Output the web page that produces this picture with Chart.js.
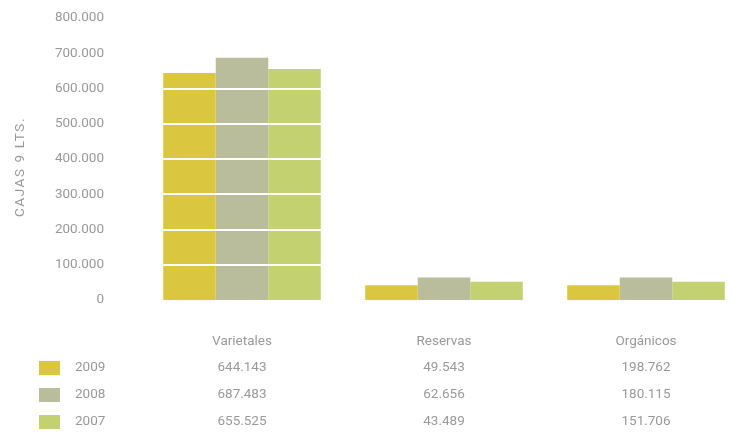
<!DOCTYPE html>
<html>
<head>
<meta charset="utf-8">
<script src="https://cdn.jsdelivr.net/npm/chart.js@4/dist/chart.umd.min.js"></script>
<style>
html,body{margin:0;padding:0;background:#fff;overflow:hidden;width:733px;height:435px;}
canvas{display:block;}
</style>
</head>
<body>
<canvas id="c" width="760" height="435"></canvas>
<script>
// ---- data ----
const categories = ['Varietales', 'Reservas', 'Orgánicos'];
const seriesNames = ['2009', '2008', '2007'];
// bar heights as drawn in the picture
const bars2009 = [644143, 42000, 42000];
const bars2008 = [687483, 64000, 64000];
const bars2007 = [655525, 52000, 52000];
// values printed in the table under the chart
const table2009 = ['644.143', '49.543', '198.762'];
const table2008 = ['687.483', '62.656', '180.115'];
const table2007 = ['655.525', '43.489', '151.706'];
const yTitle = 'CAJAS 9 LTS.';

const colors = ['#dbc640', '#b9bd9b', '#c3d170'];
const textColor = '#999999';
const fontFamily = 'Roboto, "DejaVu Sans", sans-serif';
const fontSize = 13.5;
const fontWeight = 400;

const seriesBars = [bars2009, bars2008, bars2007];
const seriesTable = [table2009, table2008, table2007];

const overlayPlugin = {
  id: 'overlay',
  afterDatasetsDraw(chart) {
    const ctx = chart.ctx;
    const y = chart.scales.y;
    const area = chart.chartArea;
    ctx.save();
    ctx.strokeStyle = '#ffffff';
    ctx.lineWidth = 2;
    y.ticks.forEach(t => {
      if (t.value === 0) return;
      const py = Math.round(y.getPixelForValue(t.value));
      ctx.beginPath();
      ctx.moveTo(area.left, py);
      ctx.lineTo(area.right, py);
      ctx.stroke();
    });
    ctx.restore();
  },
  afterDraw(chart) {
    const ctx = chart.ctx;
    const x = chart.scales.x;
    ctx.save();
    ctx.font = fontWeight + ' ' + fontSize + 'px ' + fontFamily;
    ctx.fillStyle = textColor;
    // y axis title
    ctx.save();
    ctx.translate(21, 167);
    ctx.rotate(-Math.PI / 2);
    ctx.letterSpacing = '1.6px';
    ctx.textAlign = 'center';
    ctx.textBaseline = 'middle';
    ctx.fillText(yTitle, 0, 0);
    ctx.restore();
    // data table
    const rowY = [368, 395, 422];
    seriesNames.forEach((name, s) => {
      const ry = rowY[s];
      ctx.fillStyle = colors[s];
      ctx.fillRect(39, ry - 7, 21, 14);
      ctx.fillStyle = textColor;
      ctx.textAlign = 'left';
      ctx.textBaseline = 'middle';
      ctx.fillText(name, 75, ry);
      ctx.textAlign = 'center';
      seriesTable[s].forEach((v, i) => {
        ctx.fillText(v, x.getPixelForValue(i), ry);
      });
    });
    ctx.restore();
  }
};

new Chart(document.getElementById('c'), {
  type: 'bar',
  data: {
    labels: categories,
    datasets: seriesNames.map((n, s) => ({
      label: n,
      data: seriesBars[s],
      backgroundColor: colors[s],
      borderWidth: 0,
      barPercentage: 1,
      categoryPercentage: 0.78
    }))
  },
  options: {
    responsive: false,
    animation: false,
    layout: { padding: { top: 18, right: 13, left: 0, bottom: 0 } },
    plugins: { legend: { display: false }, tooltip: { enabled: false } },
    scales: {
      x: {
        offset: true,
        grid: { display: false, drawTicks: false },
        border: { display: false },
        ticks: {
          color: textColor,
          font: { family: fontFamily, size: fontSize, weight: fontWeight },
          padding: 34,
          maxRotation: 0
        },
        afterFit(s) { s.height = 135; }
      },
      y: {
        min: 0,
        max: 800000,
        grid: { display: false, drawTicks: false },
        border: { display: false },
        ticks: {
          stepSize: 100000,
          color: textColor,
          font: { family: fontFamily, size: fontSize, weight: fontWeight },
          padding: 37,
          callback: v => v === 0 ? '0' : (v / 1000) + '.000'
        },
        afterFit(s) { s.width = 141; s.paddingTop = 8; s.paddingBottom = 8; }
      }
    }
  },
  plugins: [overlayPlugin]
});
</script>
</body>
</html>
